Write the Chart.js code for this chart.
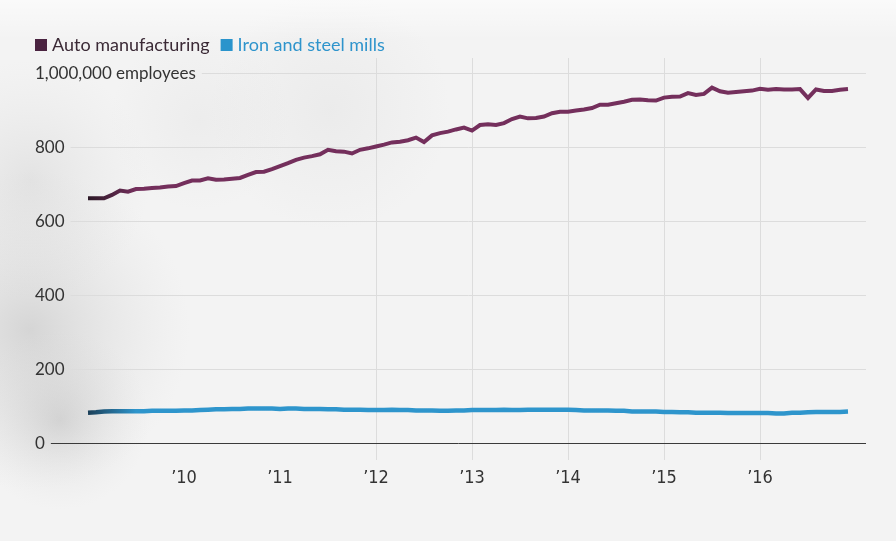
<!DOCTYPE html>
<html>
<head>
<meta charset="utf-8">
<script src="https://cdn.jsdelivr.net/npm/chart.js@4"></script>
<style>
  html, body { margin: 0; padding: 0; background: #f3f3f3; }
  #wrap { width: 896px; height: 541px; }
</style>
</head>
<body>
<div id="wrap"><canvas id="jobsChart" width="896" height="541"></canvas></div>
<script>
// Monthly employment, thousands, Jan 2009 - Dec 2016
let startYear = 2009;
let autoValues = [
    661, 661, 661, 670, 682, 679, 686, 687, 689, 690, 693, 694,
    702, 709, 709, 715, 711, 712, 714, 716, 724, 732, 733, 740,
    748, 756, 765, 771, 775, 780, 792, 788, 787, 782, 792, 796,
    801, 806, 812, 814, 818, 825, 813, 831, 837, 841, 847, 852,
    844, 859, 861, 859, 864, 875, 882, 877, 878, 882, 891, 895,
    895, 898, 901, 905, 914, 914, 918, 922, 927, 928, 926, 925,
    933, 935, 936, 945, 940, 943, 960, 950, 946, 948, 950, 952,
    957, 954, 956, 955, 955, 956, 932, 955, 951, 951, 954, 956
];
let steelValues = [
    82, 83, 85, 86, 86, 86, 86, 86, 87, 87, 87, 87,
    88, 88, 89, 90, 91, 91, 92, 92, 93, 93, 93, 93,
    92, 93, 93, 92, 92, 92, 91, 91, 90, 90, 90, 89,
    89, 89, 90, 89, 89, 88, 88, 88, 87, 87, 88, 88,
    89, 89, 89, 89, 90, 89, 89, 90, 90, 90, 90, 90,
    90, 89, 88, 88, 88, 88, 87, 87, 85, 85, 85, 85,
    84, 84, 83, 83, 82, 82, 82, 82, 81, 81, 81, 81,
    81, 81, 80, 80, 82, 82, 83, 84, 84, 84, 84, 85
];
let seriesNames = ["Auto manufacturing", "Iron and steel mills"];
let yearTicks = [12, 24, 36, 48, 60, 72, 84]; // months since Jan 2009
let yearLabels = ["\u201910", "\u201911", "\u201912", "\u201913", "\u201914", "\u201915", "\u201916"];
let yTicks = [0, 200, 400, 600, 800, 1000];
let yTickLabels = ["0", "200", "400", "600", "800", "1,000,000 employees"];

let fontMain = "Lato, 'Open Sans', sans-serif";
let legendBox = ["#4a2340", "#2a94cc"];
let legendText = ["#3b2a36", "#2e94cc"];

// Fade from a dark start colour into the series colour (the paper texture darkens the left edge)
function fadeStroke(dark, main) {
    return function (context) {
        let chart = context.chart;
        let xScale = chart.scales.x;
        if (!xScale || !chart.chartArea) return main;
        let x0 = xScale.getPixelForValue(0);
        let x1 = xScale.getPixelForValue(6);
        let g = chart.ctx.createLinearGradient(x0, 0, x1, 0);
        g.addColorStop(0, dark);
        g.addColorStop(1, main);
        return g;
    };
}

// Paper background with a grey cloud on the left
const paperBackground = {
    id: "paperBackground",
    beforeDraw(chart) {
        let ctx = chart.ctx;
        ctx.save();
        ctx.fillStyle = "#f3f3f3";
        ctx.fillRect(0, 0, chart.width, chart.height);
        let blobs = [
            [30, 330, 160, "rgba(150,150,150,0.32)"],
            [60, 420, 90, "rgba(140,140,140,0.25)"],
            [30, 180, 120, "rgba(170,170,170,0.22)"],
            [330, 110, 120, "rgba(200,200,200,0.18)"],
            [200, 120, 90, "rgba(200,200,200,0.15)"]
        ];
        blobs.forEach(b => {
            let g = ctx.createRadialGradient(b[0], b[1], 0, b[0], b[1], b[2]);
            g.addColorStop(0, b[3]);
            g.addColorStop(1, "rgba(200,200,200,0)");
            ctx.fillStyle = g;
            ctx.fillRect(b[0] - b[2], b[1] - b[2], b[2] * 2, b[2] * 2);
        });
        let top = ctx.createLinearGradient(0, 0, 0, 40);
        top.addColorStop(0, "rgba(255,255,255,0.6)");
        top.addColorStop(1, "rgba(255,255,255,0)");
        ctx.fillStyle = top;
        ctx.fillRect(0, 0, chart.width, 40);
        ctx.restore();
    }
};

// Horizontal grid lines with their labels sitting on the left
const yLabelsAndGrid = {
    id: "yLabelsAndGrid",
    beforeDatasetsDraw(chart) {
        let ctx = chart.ctx;
        let yScale = chart.scales.y;
        let area = chart.chartArea;
        ctx.save();
        ctx.font = "17px " + fontMain;
        ctx.textBaseline = "middle";
        ctx.textAlign = "left";
        yTicks.forEach((v, i) => {
            let y = Math.round(yScale.getPixelForValue(v)) + 0.5;
            let text = yTickLabels[i];
            ctx.fillStyle = "#333333";
            ctx.fillText(text, 35, y);
            let start = Math.max(area.left, 35 + ctx.measureText(text).width + 6);
            ctx.beginPath();
            ctx.moveTo(start, y);
            ctx.lineTo(area.right, y);
            ctx.lineWidth = 1;
            ctx.strokeStyle = v === 0 ? "#3a3a3a" : "#dcdcdc";
            ctx.stroke();
        });
        ctx.restore();
    }
};

// Legend row: square swatch + coloured label, left aligned above the plot
const legendRow = {
    id: "legendRow",
    afterDraw(chart) {
        let ctx = chart.ctx;
        let x = 35;
        let y = 45;
        ctx.save();
        ctx.font = "18px " + fontMain;
        ctx.textBaseline = "middle";
        ctx.textAlign = "left";
        chart.data.datasets.forEach((ds, i) => {
            ctx.fillStyle = legendBox[i];
            ctx.fillRect(x, y - 6, 12, 12);
            ctx.fillStyle = legendText[i];
            ctx.fillText(ds.label, x + 17, y);
            x += 17 + ctx.measureText(ds.label).width + 11;
        });
        ctx.restore();
    }
};

function setupChart() {
    let ctx = document.getElementById("jobsChart").getContext("2d");
    new Chart(ctx, {
        type: "line",
        data: {
            datasets: [{
                label: seriesNames[0],
                data: autoValues.map((v, i) => ({ x: i, y: v })),
                borderColor: fadeStroke("#2b1826", "#742f5c"),
                borderWidth: 4,
                pointRadius: 0,
                tension: 0
            }, {
                label: seriesNames[1],
                data: steelValues.map((v, i) => ({ x: i, y: v })),
                borderColor: fadeStroke("#1b3f58", "#2e95cc"),
                borderWidth: 4.5,
                pointRadius: 0,
                tension: 0
            }]
        },
        options: {
            responsive: false,
            animation: false,
            layout: { padding: { top: 58, left: 25, right: 30, bottom: 0 } },
            scales: {
                x: {
                    type: "linear",
                    min: -4.75,
                    max: 97.25,
                    afterBuildTicks: scale => {
                        scale.ticks = yearTicks.map(v => ({ value: v }));
                    },
                    afterFit: scale => { scale.height = 98; },
                    ticks: {
                        autoSkip: false,
                        maxRotation: 0,
                        padding: 8,
                        color: "#333333",
                        font: { family: "'Liberation Sans Narrow', 'DejaVu Sans Condensed', sans-serif", size: 18 },
                        callback: value => yearLabels[yearTicks.indexOf(value)]
                    },
                    grid: {
                        color: c => (c.index < 2 ? "rgba(0,0,0,0)" : "#dcdcdc"),
                        tickLength: 17,
                        lineWidth: 1
                    },
                    border: { display: false }
                },
                y: {
                    min: 0,
                    max: 1040,
                    afterFit: scale => { scale.width = 25; },
                    ticks: { display: false },
                    grid: { display: false, drawTicks: false },
                    border: { display: false }
                }
            },
            plugins: {
                legend: { display: false },
                tooltip: { enabled: false }
            }
        },
        plugins: [paperBackground, yLabelsAndGrid, legendRow]
    });
}

setupChart();
</script>
</body>
</html>
